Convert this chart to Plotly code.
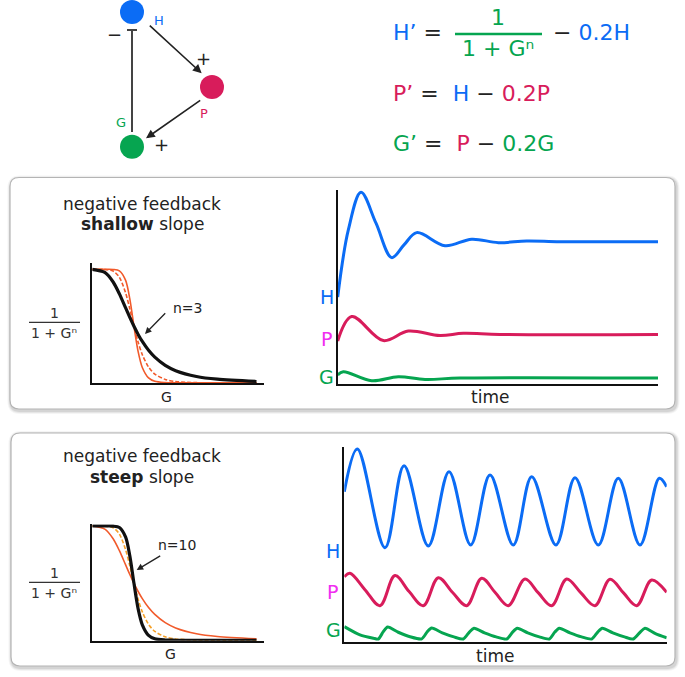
import plotly.graph_objects as go

W, H = 685, 677
FONT = "DejaVu Sans"
BLUE = "#0b6cf5"
RED = "#d81c5b"
GREEN = "#06a550"
ORANGE = "#f15a2b"
YORANGE = "#f5a12a"
MAGENTA = "#f02ef0"
INK = "#222222"

# ---------------- data ----------------
g_vals = [0, 0.3, 0.5, 0.65, 0.8, 0.9, 1.0, 1.1, 1.2, 1.35, 1.5, 1.75, 2.0, 2.5, 3.0, 3.94]
hill_n3 = [1.0, 0.973, 0.889, 0.785, 0.661, 0.578, 0.5, 0.429, 0.367, 0.289, 0.229, 0.157, 0.111, 0.06, 0.036, 0.016]
hill_n6 = [1.0, 0.999, 0.985, 0.93, 0.792, 0.653, 0.5, 0.361, 0.251, 0.143, 0.081, 0.034, 0.015, 0.006, 0.004, 0.004]
hill_n10 = [1.0, 1.0, 0.999, 0.987, 0.903, 0.741, 0.5, 0.278, 0.139, 0.047, 0.017, 0.006, 0.004, 0.004, 0.004, 0.004]

# shallow slope time series
t1_H = [0, 1.66, 3.64, 5.98, 8.43, 10.35, 12.33, 16.75, 20.92, 25.07, 29.5, 34.7, 50]
y1_H = [4.52, 8.02, 9.98, 8.37, 6.58, 7.24, 7.88, 7.20, 7.54, 7.36, 7.45, 7.41, 7.41]
t1_P = [0, 2.19, 7.12, 11.02, 15.97, 19.6, 25.3, 50]
y1_P = [2.24, 3.51, 2.26, 2.76, 2.52, 2.64, 2.58, 2.58]
t1_G = [0, 0.87, 5.31, 9.46, 13.63, 19.1, 50]
y1_G = [0.47, 0.64, 0.17, 0.38, 0.24, 0.31, 0.31]

# steep slope time series
t2_H = [0, 2.02, 6.31, 9.26, 13.03, 16.24, 19.6, 22.6, 26.2, 29.06, 32.83, 35.78, 39.39, 42.49, 45.86, 48.85, 50]
y2_H = [7.78, 10.0, 4.88, 9.13, 4.97, 8.82, 5.02, 8.65, 5.02, 8.56, 5.02, 8.51, 5.02, 8.48, 5.02, 8.48, 8.04]
t2_P = [0, 0.88, 3.2, 5.54, 7.86, 10.05, 12.25, 14.58, 16.8, 18.98, 21.31, 23.4, 25.43,
        28.02, 30.1, 32.16, 34.49, 36.7, 38.88, 41.21, 43.3, 45.35, 47.67, 50]
y2_P = [3.37, 3.55, 2.7, 1.87, 3.43, 2.6, 1.87, 3.32, 2.55, 1.87, 3.29, 2.55, 1.87,
        3.25, 2.53, 1.87, 3.25, 2.53, 1.87, 3.24, 2.53, 1.87, 3.20, 2.56]
t2_G = [0, 2.43, 4.5, 5.27, 6.05, 6.73, 8.37, 10.19, 12.0, 12.87, 13.55, 15.2, 17.0, 18.46,
        19.4, 20.11, 21.75, 23.55, 25.19, 26.1, 26.83, 28.45, 30.25, 31.8, 32.65, 33.34,
        35.0, 36.8, 38.37, 39.3, 40.01, 41.65, 43.45, 44.82, 45.9, 46.63, 48.25, 50]
y2_G = [0.78, 0.35, 0.18, 0.14, 0.52, 0.76, 0.49, 0.26, 0.15, 0.52, 0.71, 0.46, 0.25, 0.14,
        0.5, 0.7, 0.46, 0.25, 0.14, 0.5, 0.7, 0.46, 0.25, 0.14, 0.5, 0.7,
        0.46, 0.25, 0.14, 0.5, 0.7, 0.46, 0.25, 0.14, 0.5, 0.7, 0.42, 0.2]


def X(px):
    return px / W


def Y(py):
    return 1 - py / H


fig = go.Figure()


def line(x, y, color, width, axis, dash="solid", smooth=1.0):
    fig.add_trace(go.Scatter(x=x, y=y, mode="lines", xaxis="x" + axis, yaxis="y" + axis,
                             line=dict(color=color, width=width, dash=dash, shape="spline",
                                       smoothing=smooth),
                             hoverinfo="skip", showlegend=False))


# hill panel 1 (shallow, black n=3)
line(g_vals, hill_n10, ORANGE, 1.6, "", smooth=0.8)
line(g_vals, hill_n6, ORANGE, 1.6, "", dash="4px,2px", smooth=0.8)
line(g_vals, hill_n3, "#111111", 3.2, "", smooth=0.8)
# time series 1
line(t1_H, y1_H, BLUE, 3, "2")
line(t1_P, y1_P, RED, 3, "2")
line(t1_G, y1_G, GREEN, 3, "2")
# hill panel 2 (steep, black n=10)
line(g_vals, hill_n3, ORANGE, 1.6, "3", smooth=0.8)
line(g_vals, hill_n6, YORANGE, 1.6, "3", dash="4px,2px", smooth=0.8)
line(g_vals, hill_n10, "#111111", 3.2, "3", smooth=0.8)
# time series 2
line(t2_H, y2_H, BLUE, 3, "4")
line(t2_P, y2_P, RED, 3, "4")
line(t2_G, y2_G, GREEN, 3, "4", smooth=0.7)

ax_common = dict(showline=True, linecolor="#111111", linewidth=1.5, showticklabels=False,
                 ticks="", showgrid=False, zeroline=False, fixedrange=True)

fig.update_layout(
    xaxis=dict(ax_common, domain=[X(92.3), X(264)], range=[0, 4.12], anchor="y"),
    yaxis=dict(ax_common, domain=[Y(383.3), Y(263.3)], range=[0, 1.053], anchor="x"),
    xaxis2=dict(ax_common, domain=[X(337.7), X(658)], range=[0, 50], anchor="y2"),
    yaxis2=dict(ax_common, domain=[Y(384), Y(190)], range=[0, 10.1], anchor="x2"),
    xaxis3=dict(ax_common, domain=[X(92.3), X(264)], range=[0, 4.12], anchor="y3"),
    yaxis3=dict(ax_common, domain=[Y(640.7), Y(524.3)], range=[0, 1.015], anchor="x3"),
    xaxis4=dict(ax_common, domain=[X(344.3), X(666.7)], range=[0, 50], anchor="y4"),
    yaxis4=dict(ax_common, domain=[Y(641.7), Y(447)], range=[0, 10.1], anchor="x4"),
)

shapes = []


def rrect(x0, y0, x1, y1, r):
    return (f"M {X(x0 + r)},{Y(y0)} L {X(x1 - r)},{Y(y0)} Q {X(x1)},{Y(y0)} {X(x1)},{Y(y0 + r)} "
            f"L {X(x1)},{Y(y1 - r)} Q {X(x1)},{Y(y1)} {X(x1 - r)},{Y(y1)} "
            f"L {X(x0 + r)},{Y(y1)} Q {X(x0)},{Y(y1)} {X(x0)},{Y(y1 - r)} "
            f"L {X(x0)},{Y(y0 + r)} Q {X(x0)},{Y(y0)} {X(x0 + r)},{Y(y0)} Z")


for (x0, y0, x1, y1) in [(10, 177.5, 675, 409), (11, 433, 675, 666)]:
    for w, a in [(7, 0.04), (5, 0.06), (3, 0.08)]:
        shapes.append(dict(type="path", path=rrect(x0 + 1, y0 + 1.5, x1 + 1, y1 + 1.5, 9),
                           xref="paper", yref="paper", layer="below",
                           line=dict(color=f"rgba(0,0,0,{a})", width=w)))
    shapes.append(dict(type="path", path=rrect(x0, y0, x1, y1, 9), xref="paper", yref="paper",
                       layer="below", fillcolor="white", line=dict(color="#b4b4b4", width=1.2)))

# network diagram
for cx, cy, col in [(132, 12, BLUE), (212, 87, RED), (132, 146.7, GREEN)]:
    shapes.append(dict(type="circle", xref="paper", yref="paper", x0=X(cx - 12), x1=X(cx + 12),
                       y0=Y(cy + 12), y1=Y(cy - 12), fillcolor=col, line=dict(width=0)))
shapes.append(dict(type="line", xref="paper", yref="paper", x0=X(132), x1=X(132), y0=Y(132), y1=Y(30),
                   line=dict(color="#444444", width=2)))
shapes.append(dict(type="line", xref="paper", yref="paper", x0=X(127), x1=X(137), y0=Y(30), y1=Y(30),
                   line=dict(color="#444444", width=2)))
# fraction bars
shapes.append(dict(type="line", xref="paper", yref="paper", x0=X(455), x1=X(542), y0=Y(34), y1=Y(34),
                   line=dict(color=GREEN, width=2.5)))
for yy in [322.3, 582.3]:
    shapes.append(dict(type="line", xref="paper", yref="paper", x0=X(29), x1=X(80), y0=Y(yy), y1=Y(yy),
                       line=dict(color="#333333", width=1.2)))
fig.update_layout(shapes=shapes)

ann = []


def txt(px, py, s, size, color=INK, xanchor="center"):
    ann.append(dict(x=X(px), y=Y(py), xref="paper", yref="paper", text=s, showarrow=False,
                    xanchor=xanchor, yanchor="middle", font=dict(family=FONT, size=size, color=color)))


def arrow(tx, ty, sx, sy, width=1.6, size=1.1):
    ann.append(dict(x=X(tx), y=Y(ty), xref="paper", yref="paper", text="", showarrow=True,
                    ax=sx - tx, ay=sy - ty, arrowhead=2, arrowsize=size, arrowwidth=width,
                    arrowcolor=INK, standoff=0, startstandoff=0))


# diagram labels
txt(158.5, 20.5, "H", 13, BLUE)
txt(203.5, 113, "P", 13, RED)
txt(120.5, 122.5, "G", 13, GREEN)
txt(203, 58, "+", 18)
txt(161, 144, "+", 18)
txt(115, 35, "−", 18)
arrow(201.7, 73.3, 148.3, 24.3)
arrow(146, 138.3, 201.7, 99.3)

# equations
txt(391, 33, f"<span style='color:{BLUE}'>H’</span> =", 22, INK, "left")
txt(498, 18, "1", 22, GREEN)
txt(498, 48.5, "1 + Gⁿ", 22, GREEN)
txt(551, 33, f"− <span style='color:{BLUE}'>0.2H</span>", 22, INK, "left")
txt(391, 93, f"<span style='color:{RED}'>P’</span> =  <span style='color:{BLUE}'>H</span> − "
             f"<span style='color:{RED}'>0.2P</span>", 22, INK, "left")
txt(391, 143, f"<span style='color:{GREEN}'>G’</span> =  <span style='color:{RED}'>P</span> − "
              f"<span style='color:{GREEN}'>0.2G</span>", 22, INK, "left")

# panel 1
txt(142, 204, "negative feedback", 17)
txt(142, 224, "<b>shallow</b> slope", 17)
txt(54.3, 312.7, "1", 14, "#333333")
txt(54.3, 332.7, "1 + Gⁿ", 14, "#333333")
txt(166, 396.7, "G", 14)
txt(188.3, 308.3, "n=3", 14)
arrow(145, 334, 166.7, 311.7, 1.3, 1.0)
txt(490, 397.3, "time", 17)
txt(326.5, 297.3, "H", 19, BLUE)
txt(326, 339.3, "P", 19, MAGENTA)
txt(326.5, 376.7, "G", 19, GREEN)

# panel 2
txt(142, 455.7, "negative feedback", 17)
txt(142, 476.7, "<b>steep</b> slope", 17)
txt(54.3, 572.7, "1", 14, "#333333")
txt(54.3, 592.7, "1 + Gⁿ", 14, "#333333")
txt(170, 654.3, "G", 14)
txt(177, 545, "n=10", 14)
arrow(136.7, 570, 161.7, 555, 1.3, 1.0)
txt(495, 655.7, "time", 17)
txt(333.3, 551, "H", 19, BLUE)
txt(332.7, 591.7, "P", 19, MAGENTA)
txt(333.3, 630, "G", 19, GREEN)

fig.update_layout(annotations=ann, width=W, height=H, margin=dict(l=0, r=0, t=0, b=0),
                  paper_bgcolor="white", plot_bgcolor="rgba(0,0,0,0)", showlegend=False,
                  font=dict(family=FONT))

fig.write_html("out.html", config={"displayModeBar": False},
               post_script="document.body.style.margin='0';document.body.style.overflow='hidden';")
